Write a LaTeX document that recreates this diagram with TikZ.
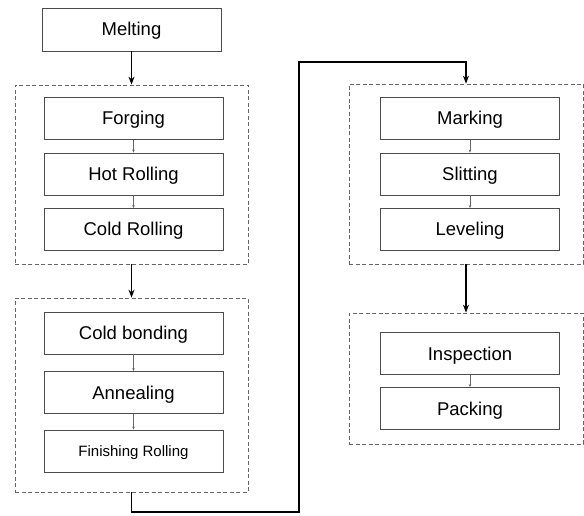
\documentclass[tikz,border=0pt]{standalone}
\usepackage{fontspec}
\setmainfont{Liberation Sans}
\usetikzlibrary{arrows.meta}
\begin{document}
\begin{tikzpicture}[x=1pt,y=-1pt,
 proc/.style={draw=black!70, line width=0.8pt, minimum width=179pt, minimum height=42pt, font=\fontsize{18.5}{21}\selectfont, inner sep=0pt, text height=13pt, text depth=0pt},
 grp/.style={draw=black!60, line width=0.7pt, dash pattern=on 4pt off 2.5pt, inner sep=0pt},
 big/.style={-{Stealth[length=8pt,width=6pt]}, line width=1.5pt},
 small/.style={-{Stealth[length=3pt,width=2.5pt]}, line width=0.5pt, draw=black!60}]
\useasboundingbox (0,0) rectangle (584,516);
\node[grp, minimum width=233pt, minimum height=179pt] (g1) at (131.5,174.5) {};
\node[grp, minimum width=233pt, minimum height=194pt] (g2) at (131.5,395) {};
\node[grp, minimum width=234pt, minimum height=180pt] (g3) at (466,174) {};
\node[grp, minimum width=234pt, minimum height=131pt] (g4) at (466,378.5) {};
\node[proc, minimum height=43pt] (melt) at (131.5,29.5) {Melting};
\node[proc] (forg) at (133.5,118.5) {Forging};
\node[proc] (hot) at (133.5,174) {Hot Rolling};
\node[proc] (cold) at (133.5,229.5) {Cold Rolling};
\node[proc] (bond) at (133.5,333) {Cold bonding};
\node[proc] (anne) at (133.5,392.5) {Annealing};
\node[proc, font=\fontsize{15}{18}\selectfont, text height=10.5pt] (fini) at (133.5,451) {Finishing Rolling};
\node[proc] (mark) at (470,118.5) {Marking};
\node[proc] (slit) at (470,174) {Slitting};
\node[proc] (leve) at (470,229.5) {Leveling};
\node[proc] (insp) at (470,353.5) {Inspection};
\node[proc] (pack) at (470,408.5) {Packing};
\coordinate (c1) at (299,512);
\coordinate (c2) at (299,62);
\draw[big] (melt.south) -- (g1.north);
\draw[big] (g1.south) -- (g2.north);
\draw[big] (g2.south) |- (c1) -- (c2) -| (g3.north);
\draw[big] (g3.south) -- (g4.north);
\draw[small] (forg) -- (hot);
\draw[small] (hot) -- (cold);
\draw[small] (bond) -- (anne);
\draw[small] (anne) -- (fini);
\draw[small] (mark) -- (slit);
\draw[small] (slit) -- (leve);
\draw[small] (insp) -- (pack);
\end{tikzpicture}
\end{document}
